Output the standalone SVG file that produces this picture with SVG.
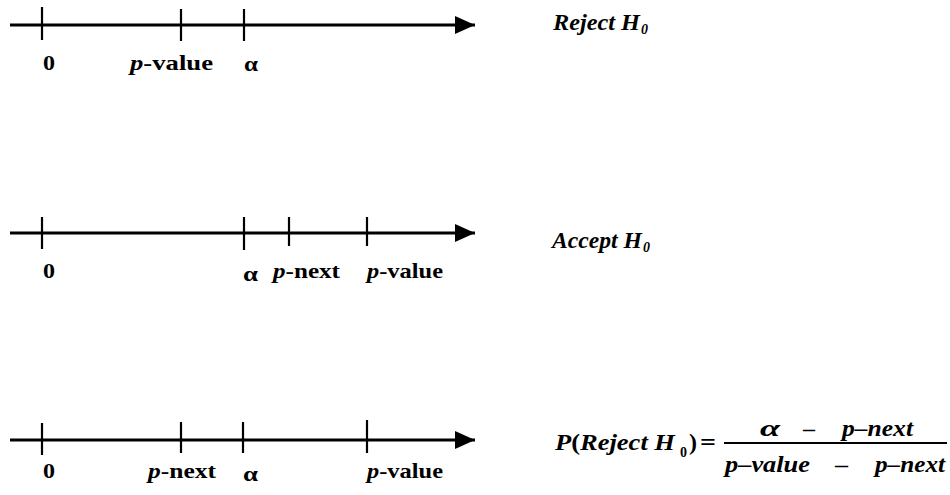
<svg xmlns="http://www.w3.org/2000/svg" width="950" height="495" viewBox="0 0 950 495">
<style>
  .axis { stroke: #000; stroke-width: 3; fill: none; }
  .tick { stroke: #000; stroke-width: 2.2; }
  .t { font-family: "Liberation Serif", "Times New Roman", serif; font-weight: bold; font-size: 21px; fill: #000; }
  .big { font-size: 24px; }
  .i { font-style: italic; }
  .sub { font-size: 14px; }
  .frac { stroke: #000; stroke-width: 1.8; }
</style>
<defs>
  <marker id="arrow" markerUnits="userSpaceOnUse" markerWidth="22" markerHeight="20" refX="20" refY="9" orient="auto">
    <path d="M0,0 L20,9 L0,18 Z" fill="#000"/>
  </marker>
</defs>
<rect width="950" height="495" fill="#fff"/>

<g id="connectors">
  <line class="axis" x1="10" y1="25" x2="475" y2="25" marker-end="url(#arrow)"/>
  <line class="axis" x1="10" y1="233" x2="475" y2="233" marker-end="url(#arrow)"/>
  <line class="axis" x1="10" y1="440" x2="475" y2="440" marker-end="url(#arrow)"/>
</g>

<g id="line1">
  <line class="tick" x1="42" y1="7" x2="42" y2="40"/>
  <line class="tick" x1="181" y1="9" x2="181" y2="41"/>
  <line class="tick" x1="244" y1="9" x2="244" y2="41"/>
  <text class="t" x="43" y="70" textLength="12" lengthAdjust="spacingAndGlyphs">0</text>
  <text class="t" x="130" y="70" textLength="83" lengthAdjust="spacingAndGlyphs"><tspan class="i">p</tspan>-value</text>
  <text class="t" x="244" y="71" textLength="14" lengthAdjust="spacingAndGlyphs">α</text>
</g>
<g id="label1">
  <text class="t i big" x="553" y="30" textLength="87" lengthAdjust="spacingAndGlyphs">Reject H</text>
  <text class="t i sub" x="641" y="34">0</text>
</g>

<g id="line2">
  <line class="tick" x1="42" y1="217" x2="42" y2="249"/>
  <line class="tick" x1="244" y1="217" x2="244" y2="250"/>
  <line class="tick" x1="289" y1="217" x2="289" y2="246"/>
  <line class="tick" x1="367" y1="217" x2="367" y2="246"/>
  <text class="t" x="43" y="278" textLength="12" lengthAdjust="spacingAndGlyphs">0</text>
  <text class="t" x="243" y="281" textLength="15" lengthAdjust="spacingAndGlyphs">α</text>
  <text class="t" x="273" y="278" textLength="67" lengthAdjust="spacingAndGlyphs"><tspan class="i">p</tspan>-next</text>
  <text class="t" x="367" y="278" textLength="76" lengthAdjust="spacingAndGlyphs"><tspan class="i">p</tspan>-value</text>
</g>
<g id="label2">
  <text class="t i big" x="552" y="248" textLength="90" lengthAdjust="spacingAndGlyphs">Accept H</text>
  <text class="t i sub" x="643" y="252">0</text>
</g>

<g id="line3">
  <line class="tick" x1="42" y1="423" x2="42" y2="455"/>
  <line class="tick" x1="181" y1="422" x2="181" y2="453"/>
  <line class="tick" x1="243" y1="422" x2="243" y2="453"/>
  <line class="tick" x1="367" y1="420" x2="367" y2="453"/>
  <text class="t" x="43" y="478" textLength="12" lengthAdjust="spacingAndGlyphs">0</text>
  <text class="t" x="148" y="478" textLength="68" lengthAdjust="spacingAndGlyphs"><tspan class="i">p</tspan>-next</text>
  <text class="t" x="243" y="481" textLength="15" lengthAdjust="spacingAndGlyphs">α</text>
  <text class="t" x="367" y="478" textLength="76" lengthAdjust="spacingAndGlyphs"><tspan class="i">p</tspan>-value</text>
</g>
<g id="label3">
  <text class="t big" x="555" y="450" textLength="120" lengthAdjust="spacingAndGlyphs"><tspan class="i">P</tspan>(<tspan class="i">Reject H</tspan></text>
  <text class="t sub" x="680" y="457">0</text>
  <text class="t big" x="689" y="450">)</text>
  <text class="t big" x="700" y="450" textLength="16" lengthAdjust="spacingAndGlyphs">=</text>
  <line class="frac" x1="724" y1="443" x2="947" y2="443"/>
  <text class="t i big" x="760" y="436" textLength="20" lengthAdjust="spacingAndGlyphs">α</text>
  <text class="t" x="803" y="436" textLength="12" lengthAdjust="spacingAndGlyphs">–</text>
  <text class="t i big" x="842" y="436" textLength="71" lengthAdjust="spacingAndGlyphs">p–next</text>
  <text class="t i big" x="725" y="472" textLength="85" lengthAdjust="spacingAndGlyphs">p–value</text>
  <text class="t" x="835" y="472" textLength="13" lengthAdjust="spacingAndGlyphs">–</text>
  <text class="t i big" x="875" y="472" textLength="70" lengthAdjust="spacingAndGlyphs">p–next</text>
</g>
</svg>
